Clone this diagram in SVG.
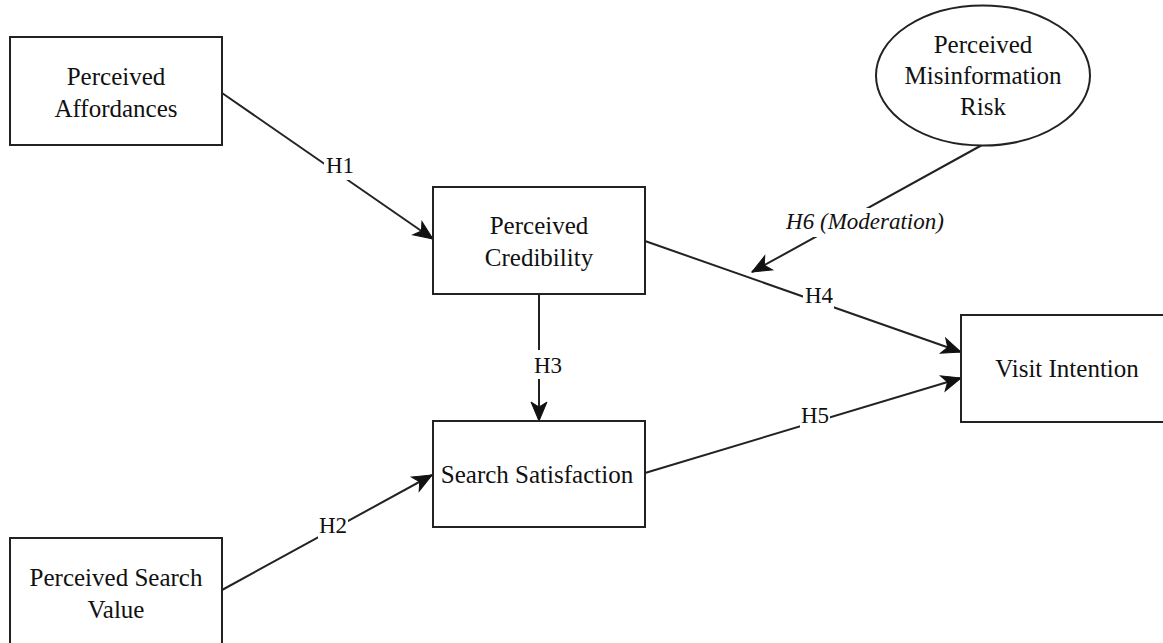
<svg xmlns="http://www.w3.org/2000/svg" width="1163" height="643" viewBox="0 0 1163 643">
<style>
.box{fill:#fff;stroke:#222;stroke-width:2}
.nt{font-family:'Liberation Serif','DejaVu Serif',serif;font-size:25px;fill:#111;text-anchor:middle}
.lt{font-family:'Liberation Serif','DejaVu Serif',serif;font-size:23px;fill:#111;text-anchor:middle}
.it{font-style:italic}
.edge{fill:none;stroke:#222;stroke-width:2;marker-end:url(#arr)}
.bg{fill:#fff;stroke:none}
</style>
<defs>
<marker id="arr" markerUnits="userSpaceOnUse" viewBox="-21 -10 22 20" markerWidth="22" markerHeight="20" refX="0" refY="0" orient="auto">
<path d="M0,0 L-19,-8 L-14,0 L-19,8 Z" fill="#111" stroke="#111" stroke-width="1" stroke-linejoin="miter"/>
</marker>
</defs>
<rect width="1163" height="643" fill="#fff"/>
<g id="connectors">
<line class="edge" x1="222" y1="93" x2="433" y2="239"/>
<line class="edge" x1="222" y1="590" x2="432" y2="475"/>
<line class="edge" x1="539" y1="294" x2="539" y2="421"/>
<line class="edge" x1="645" y1="241" x2="961" y2="352"/>
<line class="edge" x1="645" y1="473" x2="961" y2="378"/>
<line class="edge" x1="982" y1="145" x2="752" y2="272"/>
<rect class="bg" x="324" y="152" width="32" height="28"/>
<text class="lt" x="340" y="173">H1</text>
<rect class="bg" x="318" y="512" width="30" height="27"/>
<text class="lt" x="333" y="533">H2</text>
<rect class="bg" x="533" y="350" width="30" height="29"/>
<text class="lt" x="548" y="373">H3</text>
<rect class="bg" x="803" y="284" width="31" height="26"/>
<text class="lt" x="819" y="303">H4</text>
<rect class="bg" x="800" y="404" width="30" height="26"/>
<text class="lt" x="815" y="423">H5</text>
<rect class="bg" x="785" y="208" width="161" height="29"/>
<text class="lt it" x="865" y="229">H6 (Moderation)</text>
</g>
<g id="perceived-affordances">
<rect class="box" x="10" y="37" width="212" height="108"/>
<text class="nt" x="116" y="85">Perceived</text>
<text class="nt" x="116" y="117">Affordances</text>
</g>
<g id="perceived-credibility">
<rect class="box" x="433" y="187" width="212" height="107"/>
<text class="nt" x="539" y="234">Perceived</text>
<text class="nt" x="539" y="266">Credibility</text>
</g>
<g id="search-satisfaction">
<rect class="box" x="433" y="421" width="212" height="106"/>
<text class="nt" x="537" y="483">Search Satisfaction</text>
</g>
<g id="perceived-search-value">
<rect class="box" x="10" y="538" width="212" height="108"/>
<text class="nt" x="116" y="586">Perceived Search</text>
<text class="nt" x="116" y="618">Value</text>
</g>
<g id="visit-intention">
<rect class="box" x="961" y="315" width="212" height="107"/>
<text class="nt" x="1067" y="377">Visit Intention</text>
</g>
<g id="perceived-misinformation-risk">
<ellipse class="box" cx="983" cy="75.5" rx="107" ry="70"/>
<text class="nt" x="983" y="53">Perceived</text>
<text class="nt" x="983" y="84">Misinformation</text>
<text class="nt" x="983" y="115">Risk</text>
</g>
</svg>
